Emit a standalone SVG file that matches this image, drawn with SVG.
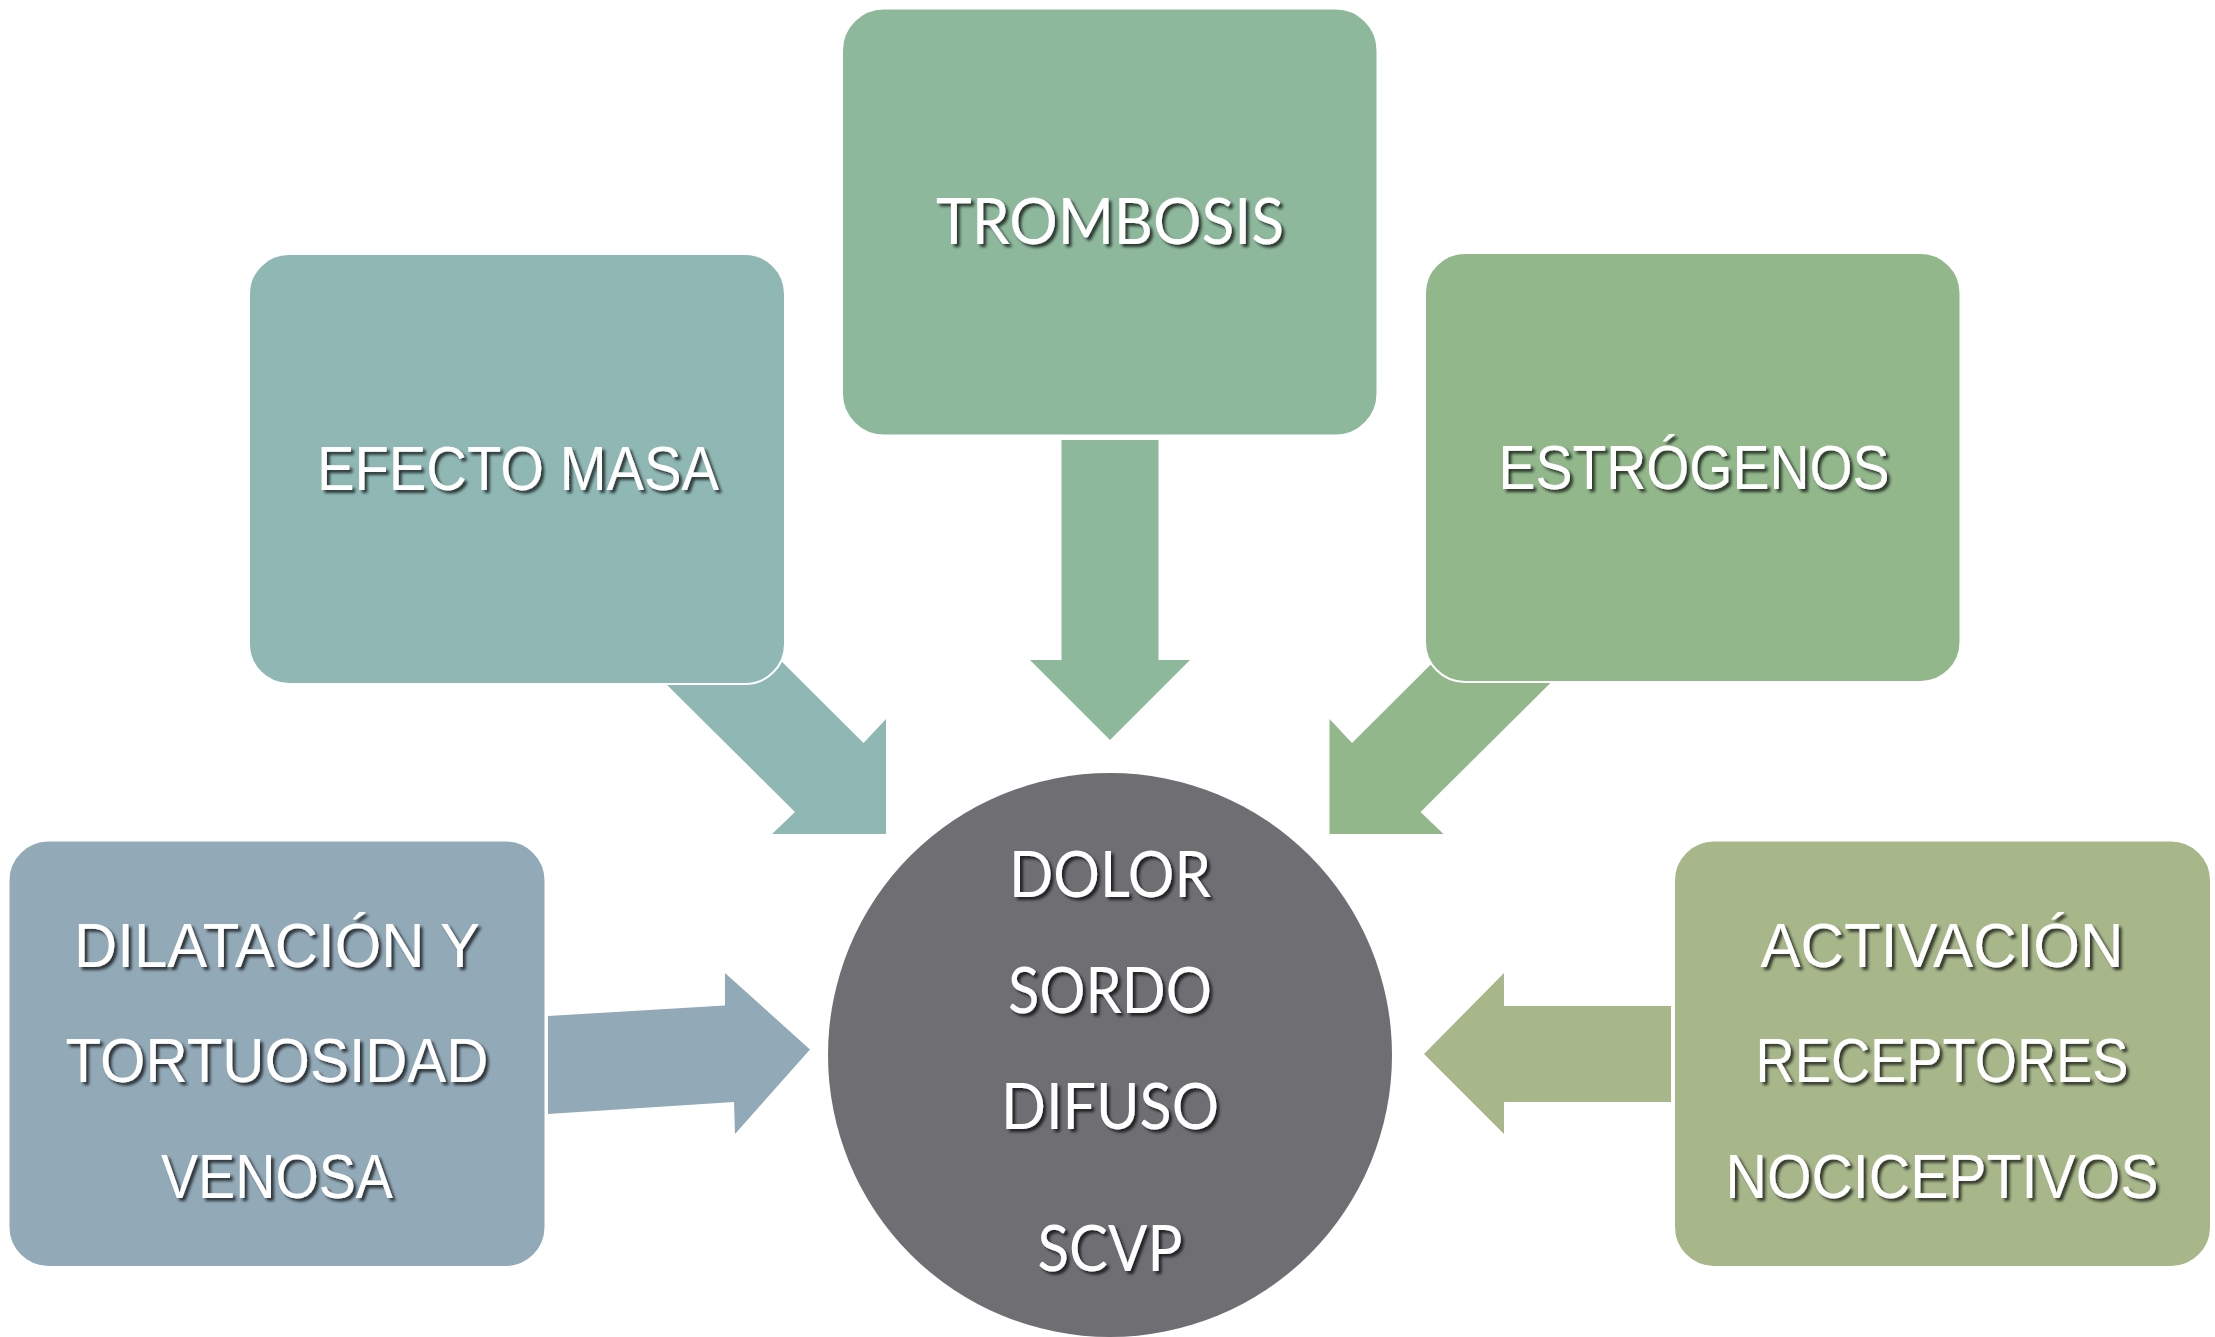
<svg xmlns="http://www.w3.org/2000/svg" width="2215" height="1337" viewBox="0 0 2215 1337">
<defs>
<filter id="sh" x="-10%" y="-30%" width="120%" height="160%">
<feGaussianBlur in="SourceAlpha" stdDeviation="1.6"/>
<feOffset dx="3" dy="3" result="b"/>
<feComponentTransfer><feFuncA type="linear" slope="0.7"/></feComponentTransfer>
<feMerge><feMergeNode/><feMergeNode in="SourceGraphic"/></feMerge>
</filter>
</defs>
<style>
.box{stroke:#ffffff;stroke-width:2}
.t{fill:#ffffff;font-size:63px;text-anchor:middle;filter:url(#sh)}
.n{font-family:"Liberation Sans Narrow","Liberation Sans",Arial,sans-serif}
.w{font-family:Lato,"Open Sans","Liberation Sans",sans-serif}
</style>
<rect width="2215" height="1337" fill="#ffffff"/>
<g id="connectors">
<polygon points="661,679 730,610 863.5,743 886,719 886,834 772,834 795,812" fill="#8fb8b4"/>
<polygon points="1061.5,440 1158.5,440 1158.5,660 1190,660 1110,740 1030,660 1061.5,660" fill="#8db89c"/>
<polygon points="1554.5,679 1485.5,610 1352,743 1329.5,719 1329.5,834 1443.5,834 1420.5,812" fill="#91b78b"/>
<polygon points="548,1016 725,1005.5 725,973 810,1049.5 735,1134 734,1102 548,1114" fill="#92a9b8"/>
<polygon points="1671,1006 1504,1006 1504,973 1424,1054 1504,1134 1504,1102 1671,1102" fill="#a7b78a"/>
</g>
<g id="efecto-masa">
<rect class="box" x="249" y="254" width="536" height="430" rx="40" fill="#8fb8b4"/>
<text class="t n" x="518" y="490" textLength="402" lengthAdjust="spacingAndGlyphs">EFECTO MASA</text>
</g>
<g id="trombosis">
<rect class="box" x="842" y="8.5" width="535.5" height="427" rx="42" fill="#8db89c"/>
<text class="t w" x="1110" y="244" textLength="348" lengthAdjust="spacingAndGlyphs">TROMBOSIS</text>
</g>
<g id="estrogenos">
<rect class="box" x="1425" y="253" width="535.5" height="429" rx="40" fill="#91b78b"/>
<text class="t n" x="1694" y="489" textLength="391" lengthAdjust="spacingAndGlyphs">ESTRÓGENOS</text>
</g>
<g id="dilatacion">
<rect class="box" x="8.5" y="840.5" width="537" height="426.5" rx="40" fill="#92a9b8"/>
<text class="t n" x="277" y="967" textLength="406" lengthAdjust="spacingAndGlyphs">DILATACIÓN Y</text>
<text class="t n" x="277" y="1082" textLength="423" lengthAdjust="spacingAndGlyphs">TORTUOSIDAD</text>
<text class="t n" x="277" y="1198" textLength="232" lengthAdjust="spacingAndGlyphs">VENOSA</text>
</g>
<g id="activacion">
<rect class="box" x="1674" y="840.5" width="537" height="426.5" rx="40" fill="#a7b78a"/>
<text class="t n" x="1942" y="967" textLength="363" lengthAdjust="spacingAndGlyphs">ACTIVACIÓN</text>
<text class="t n" x="1942" y="1082" textLength="373" lengthAdjust="spacingAndGlyphs">RECEPTORES</text>
<text class="t n" x="1942" y="1198" textLength="433" lengthAdjust="spacingAndGlyphs">NOCICEPTIVOS</text>
</g>
<g id="dolor">
<circle cx="1110" cy="1055" r="282" fill="#6f6e73"/>
<text class="t w" x="1110" y="897" textLength="202" lengthAdjust="spacingAndGlyphs">DOLOR</text>
<text class="t w" x="1110" y="1013" textLength="204" lengthAdjust="spacingAndGlyphs">SORDO</text>
<text class="t w" x="1110" y="1129" textLength="218" lengthAdjust="spacingAndGlyphs">DIFUSO</text>
<text class="t w" x="1110" y="1271" textLength="145" lengthAdjust="spacingAndGlyphs">SCVP</text>
</g>
</svg>
